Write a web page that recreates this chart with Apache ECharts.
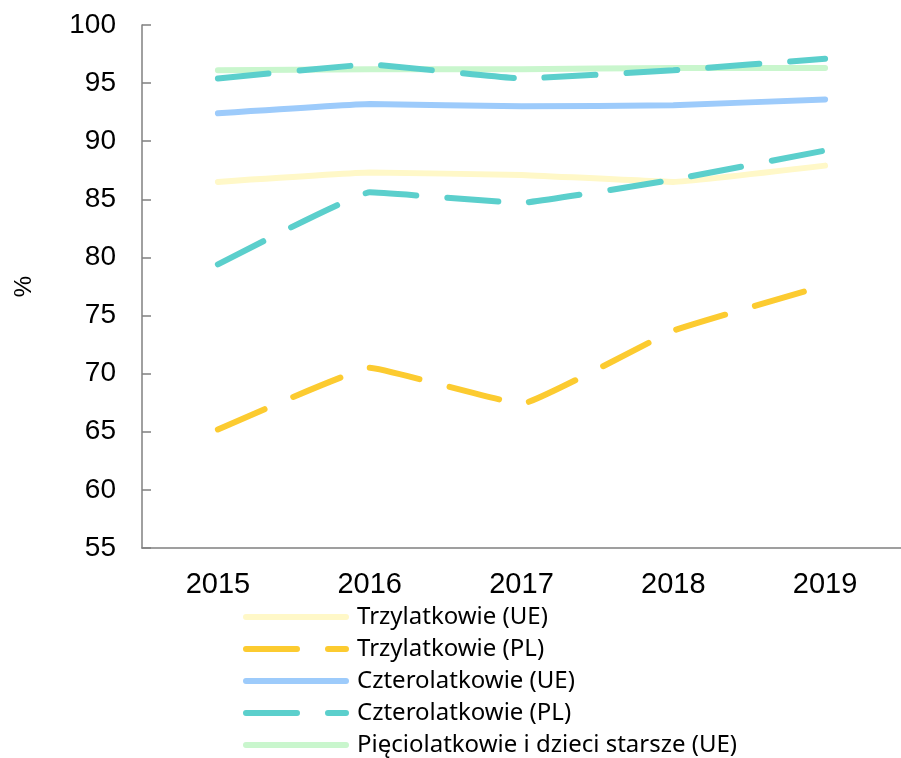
<!DOCTYPE html>
<html>
<head>
<meta charset="utf-8">
<script src="https://cdn.jsdelivr.net/npm/echarts@6/dist/echarts.min.js"></script>
<style>
  html, body { margin: 0; padding: 0; background: #fff; }
  #chart { width: 901px; height: 758px; }
</style>
</head>
<body>
<div id="chart"></div>
<script>
const years = ['2015', '2016', '2017', '2018', '2019'];
const trzyUE = [86.5, 87.3, 87.1, 86.5, 87.9];
const trzyPL = [65.2, 70.5, 67.4, 73.7, 77.6];
const czteroUE = [92.4, 93.2, 93.0, 93.1, 93.6];
const czteroPL = [79.4, 85.6, 84.7, 86.7, 89.2];
const pieciuUE = [96.1, 96.2, 96.2, 96.3, 96.3];
const czteroPLTop = [95.4, 96.6, 95.4, 96.1, 97.1];

const dash = [51, 31];
const line = (name, data, color, dashed, z) => ({
    name: name,
    type: 'line',
    data: data,
    smooth: 0.08,
    symbol: 'none',
    z: z,
    lineStyle: {
        color: color,
        width: 6,
        cap: 'round',
        type: dashed ? dash : 'solid'
    },
    itemStyle: { color: color }
});

const chart = echarts.init(document.getElementById('chart'));
chart.setOption({
    animation: false,
    grid: { left: 142, top: 25, width: 770, height: 523, containLabel: false },
    xAxis: {
        type: 'category',
        data: years,
        boundaryGap: true,
        axisLine: { lineStyle: { color: '#808080', width: 1.5 } },
        axisTick: { inside: true, length: 9, lineStyle: { color: '#808080', width: 1.5 } },
        axisLabel: { color: '#000', fontSize: 29, fontFamily: 'Liberation Sans', margin: 22 },
        splitLine: { show: false }
    },
    yAxis: {
        type: 'value',
        min: 55,
        max: 100,
        interval: 5,
        name: '%',
        nameLocation: 'middle',
        nameRotate: 90,
        nameGap: 106,
        nameTextStyle: { color: '#000', fontSize: 24, fontFamily: 'Liberation Sans' },
        axisLine: { show: true, lineStyle: { color: '#808080', width: 1.5 } },
        axisTick: { show: true, inside: true, length: 9, lineStyle: { color: '#808080', width: 1.5 } },
        axisLabel: { color: '#000', fontSize: 28, fontFamily: 'Liberation Sans', margin: 26 },
        splitLine: { show: false }
    },
    legend: {
        orient: 'vertical',
        left: 243,
        top: 605,
        padding: 0,
        itemWidth: 100,
        itemHeight: 12,
        itemGap: 8,
        itemStyle: { opacity: 0 },
        lineStyle: { width: 6, cap: 'round' },
        data: ['Trzylatkowie (UE)', 'Trzylatkowie (PL)', 'Czterolatkowie (UE)', 'Czterolatkowie (PL)', 'Pięciolatkowie i dzieci starsze (UE)'],
        textStyle: { color: '#000', fontSize: 24, fontFamily: 'Noto Sans', lineHeight: 24, padding: [0, 0, 0, 6] }
    },
    series: [
        line('Trzylatkowie (UE)', trzyUE, '#FFF8C8', false, 2),
        line('Trzylatkowie (PL)', trzyPL, '#FCCB30', true, 3),
        line('Czterolatkowie (UE)', czteroUE, '#9DCBFB', false, 2),
        line('Czterolatkowie (PL)', czteroPL, '#5BCFCC', true, 4),
        line('Pięciolatkowie i dzieci starsze (UE)', pieciuUE, '#C9F6CD', false, 2),
        line('Czterolatkowie (PL)', czteroPLTop, '#5BCFCC', true, 4)
    ]
});
</script>
</body>
</html>
